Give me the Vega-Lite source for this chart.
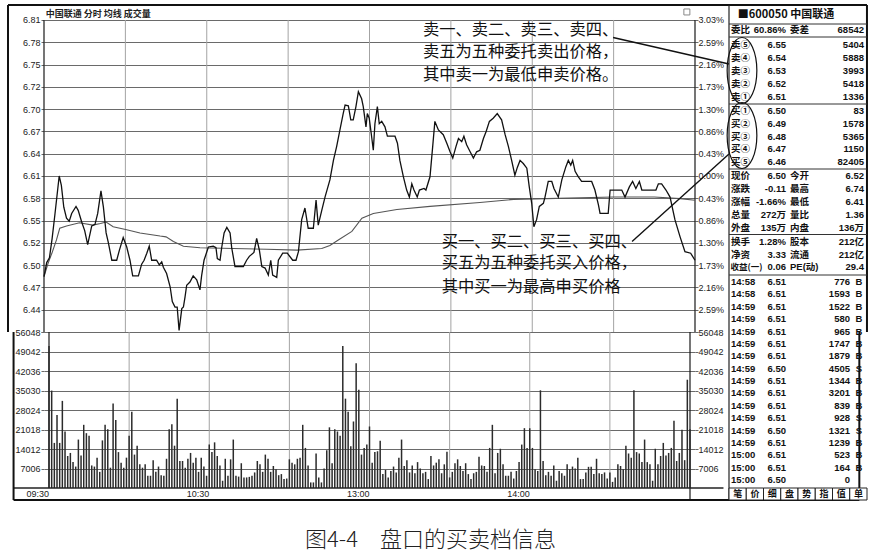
{
"$schema": "https://vega.github.io/schema/vega-lite/v6.json",
"background": "white",
"padding": {"left": 7, "top": 4, "right": 1, "bottom": 4},
"config": {"view": {"stroke": null}, "axis": {"labelFont": "Liberation Sans", "labelFontSize": 9, "labelColor": "#222", "title": null}},
"title": {"text": "图4-4　盘口的买卖档信息", "orient": "bottom", "anchor": "middle", "frame": "bounds", "offset": 29, "dx": -7, "font": "Noto Sans CJK SC", "fontSize": 22, "fontWeight": 300, "color": "#222"},
"datasets": {
"price": [{"m":0,"p":6.481},{"m":1,"p":6.499},{"m":2,"p":6.505},{"m":3,"p":6.53},{"m":4,"p":6.56},{"m":4.8,"p":6.585},{"m":5.6,"p":6.61},{"m":6.4,"p":6.598},{"m":7.3,"p":6.57},{"m":8.3,"p":6.556},{"m":9.3,"p":6.552},{"m":10.2,"p":6.562},{"m":11.8,"p":6.571},{"m":12.6,"p":6.566},{"m":13.9,"p":6.551},{"m":15,"p":6.54},{"m":16.1,"p":6.522},{"m":17.6,"p":6.546},{"m":18.8,"p":6.548},{"m":19.8,"p":6.562},{"m":21,"p":6.591},{"m":21.9,"p":6.57},{"m":22.9,"p":6.537},{"m":23.7,"p":6.525},{"m":25,"p":6.502},{"m":26.8,"p":6.502},{"m":27.8,"p":6.515},{"m":29.2,"p":6.531},{"m":30.5,"p":6.519},{"m":31.7,"p":6.502},{"m":32.7,"p":6.482},{"m":34.8,"p":6.482},{"m":36,"p":6.497},{"m":36.9,"p":6.502},{"m":37.9,"p":6.511},{"m":38.8,"p":6.52},{"m":39.7,"p":6.502},{"m":41.5,"p":6.502},{"m":42.5,"p":6.496},{"m":43.4,"p":6.5},{"m":44,"p":6.493},{"m":45.2,"p":6.485},{"m":46.5,"p":6.468},{"m":47.3,"p":6.449},{"m":48.3,"p":6.442},{"m":49.1,"p":6.442},{"m":49.8,"p":6.412},{"m":50.8,"p":6.44},{"m":51.4,"p":6.442},{"m":52,"p":6.455},{"m":52.6,"p":6.47},{"m":53.8,"p":6.474},{"m":55,"p":6.482},{"m":56.3,"p":6.477},{"m":57.5,"p":6.464},{"m":58.1,"p":6.482},{"m":59,"p":6.502},{"m":60.6,"p":6.519},{"m":62.4,"p":6.52},{"m":63.4,"p":6.518},{"m":63.9,"p":6.504},{"m":64.9,"p":6.502},{"m":65.5,"p":6.518},{"m":66.4,"p":6.537},{"m":67.4,"p":6.544},{"m":68.6,"p":6.537},{"m":69.2,"p":6.518},{"m":70.4,"p":6.494},{"m":73.5,"p":6.494},{"m":74.7,"p":6.502},{"m":75.7,"p":6.507},{"m":77.4,"p":6.512},{"m":78.4,"p":6.53},{"m":79.4,"p":6.515},{"m":80.3,"p":6.494},{"m":81.5,"p":6.492},{"m":82.7,"p":6.483},{"m":83.6,"p":6.502},{"m":84.3,"p":6.483},{"m":85.8,"p":6.48},{"m":86.4,"p":6.502},{"m":88,"p":6.511},{"m":89.7,"p":6.511},{"m":91.7,"p":6.502},{"m":92.9,"p":6.502},{"m":93.8,"p":6.513},{"m":95,"p":6.554},{"m":96.2,"p":6.569},{"m":97.4,"p":6.543},{"m":99.3,"p":6.543},{"m":100.3,"p":6.579},{"m":101.1,"p":6.547},{"m":102.4,"p":6.566},{"m":103.6,"p":6.583},{"m":105.4,"p":6.605},{"m":106.7,"p":6.63},{"m":107.9,"p":6.648},{"m":109.1,"p":6.669},{"m":110.3,"p":6.69},{"m":111,"p":6.701},{"m":112.2,"p":6.7},{"m":113.1,"p":6.682},{"m":114,"p":6.682},{"m":115,"p":6.699},{"m":115.9,"p":6.718},{"m":117.1,"p":6.709},{"m":117.7,"p":6.699},{"m":118.7,"p":6.673},{"m":119.2,"p":6.69},{"m":119.9,"p":6.684},{"m":120.8,"p":6.66},{"m":121.4,"p":6.643},{"m":122,"p":6.677},{"m":122.9,"p":6.699},{"m":123.6,"p":6.677},{"m":124.5,"p":6.68},{"m":125.7,"p":6.673},{"m":126.6,"p":6.661},{"m":129.4,"p":6.661},{"m":130.3,"p":6.652},{"m":131.2,"p":6.63},{"m":132.5,"p":6.609},{"m":133.7,"p":6.592},{"m":134.7,"p":6.583},{"m":135.6,"p":6.6},{"m":136.4,"p":6.592},{"m":137.6,"p":6.583},{"m":138.4,"p":6.592},{"m":140.1,"p":6.594},{"m":140.8,"p":6.592},{"m":142.3,"p":6.609},{"m":143.3,"p":6.648},{"m":144.1,"p":6.68},{"m":145.4,"p":6.669},{"m":147.2,"p":6.663},{"m":148.5,"p":6.652},{"m":149.7,"p":6.641},{"m":150.7,"p":6.633},{"m":151.9,"p":6.648},{"m":152.8,"p":6.658},{"m":154,"p":6.654},{"m":154.8,"p":6.661},{"m":155.8,"p":6.65},{"m":157.1,"p":6.641},{"m":158.3,"p":6.633},{"m":159.5,"p":6.641},{"m":160.7,"p":6.643},{"m":162,"p":6.658},{"m":163,"p":6.667},{"m":164.2,"p":6.68},{"m":165.6,"p":6.684},{"m":167.1,"p":6.69},{"m":168.7,"p":6.682},{"m":170,"p":6.663},{"m":171.2,"p":6.648},{"m":172.4,"p":6.63},{"m":173.6,"p":6.611},{"m":174.5,"p":6.621},{"m":175.5,"p":6.63},{"m":176.7,"p":6.626},{"m":178,"p":6.62},{"m":178.9,"p":6.596},{"m":179.8,"p":6.575},{"m":180.6,"p":6.545},{"m":181.6,"p":6.554},{"m":182.6,"p":6.571},{"m":184.1,"p":6.575},{"m":184.7,"p":6.583},{"m":185.9,"p":6.603},{"m":187.2,"p":6.603},{"m":188,"p":6.594},{"m":189.6,"p":6.583},{"m":190.9,"p":6.605},{"m":192.4,"p":6.622},{"m":193.3,"p":6.63},{"m":194.2,"p":6.624},{"m":194.9,"p":6.63},{"m":195.8,"p":6.616},{"m":197,"p":6.609},{"m":198.2,"p":6.603},{"m":201.9,"p":6.603},{"m":203.1,"p":6.592},{"m":204.4,"p":6.573},{"m":205,"p":6.562},{"m":208,"p":6.562},{"m":208.7,"p":6.592},{"m":213,"p":6.592},{"m":214.2,"p":6.583},{"m":215.8,"p":6.596},{"m":217,"p":6.603},{"m":218.2,"p":6.594},{"m":219.5,"p":6.603},{"m":220.4,"p":6.592},{"m":225.6,"p":6.592},{"m":226.5,"p":6.6},{"m":227.7,"p":6.6},{"m":229.3,"p":6.592},{"m":230.8,"p":6.583},{"m":232.6,"p":6.554},{"m":234.5,"p":6.532},{"m":236.3,"p":6.513},{"m":238.4,"p":6.511},{"m":240,"p":6.502}],
"avg": [{"m":0,"a":6.481},{"m":1.5,"a":6.498},{"m":3,"a":6.512},{"m":4.6,"a":6.528},{"m":5.8,"a":6.543},{"m":8.3,"a":6.546},{"m":13.1,"a":6.55},{"m":18,"a":6.547},{"m":20.8,"a":6.549},{"m":22.9,"a":6.551},{"m":25.5,"a":6.545},{"m":30.5,"a":6.541},{"m":35.4,"a":6.537},{"m":42.8,"a":6.533},{"m":45,"a":6.532},{"m":47.7,"a":6.526},{"m":51.4,"a":6.52},{"m":57.5,"a":6.518},{"m":69.8,"a":6.517},{"m":82.1,"a":6.516},{"m":93.2,"a":6.515},{"m":102.4,"a":6.517},{"m":105.4,"a":6.521},{"m":108.5,"a":6.528},{"m":113.5,"a":6.539},{"m":117.2,"a":6.556},{"m":121.4,"a":6.562},{"m":130.1,"a":6.567},{"m":142.3,"a":6.571},{"m":160.7,"a":6.576},{"m":173.1,"a":6.58},{"m":185.3,"a":6.581},{"m":210,"a":6.583},{"m":225,"a":6.583},{"m":234.5,"a":6.581},{"m":240,"a":6.579}],
"vol": [{"m":0,"v":51000},{"m":1,"v":35000},{"m":2,"v":16200},{"m":3,"v":26200},{"m":4,"v":16200},{"m":5,"v":31300},{"m":6,"v":20300},{"m":7,"v":11500},{"m":8,"v":12600},{"m":9,"v":9300},{"m":10,"v":7700},{"m":11,"v":17400},{"m":12,"v":11700},{"m":13,"v":22700},{"m":14,"v":19700},{"m":15,"v":18800},{"m":16,"v":8100},{"m":17,"v":7700},{"m":18,"v":10900},{"m":19,"v":5800},{"m":20,"v":17100},{"m":21,"v":22700},{"m":22,"v":21100},{"m":23,"v":7300},{"m":24,"v":30400},{"m":25,"v":24400},{"m":26,"v":12900},{"m":27,"v":9100},{"m":28,"v":7300},{"m":29,"v":10900},{"m":30,"v":18800},{"m":31,"v":27400},{"m":32,"v":12000},{"m":33,"v":15200},{"m":34,"v":8500},{"m":35,"v":7300},{"m":36,"v":8500},{"m":37,"v":4400},{"m":38,"v":4400},{"m":39,"v":10000},{"m":40,"v":5800},{"m":41,"v":7700},{"m":42,"v":4600},{"m":43,"v":4400},{"m":44,"v":10500},{"m":45,"v":21100},{"m":46,"v":22900},{"m":47,"v":15200},{"m":48,"v":32100},{"m":49,"v":9700},{"m":50,"v":9700},{"m":51,"v":7300},{"m":52,"v":10500},{"m":53,"v":12600},{"m":54,"v":9100},{"m":55,"v":10900},{"m":56,"v":5800},{"m":57,"v":10900},{"m":58,"v":7700},{"m":59,"v":4400},{"m":60,"v":15600},{"m":61,"v":12900},{"m":62,"v":16400},{"m":63,"v":11500},{"m":64,"v":8100},{"m":65,"v":2600},{"m":66,"v":10500},{"m":67,"v":4400},{"m":68,"v":10300},{"m":69,"v":17400},{"m":70,"v":4400},{"m":71,"v":4100},{"m":72,"v":8900},{"m":73,"v":3800},{"m":74,"v":3800},{"m":75,"v":4000},{"m":76,"v":4400},{"m":77,"v":5600},{"m":78,"v":9700},{"m":79,"v":8500},{"m":80,"v":5800},{"m":81,"v":12000},{"m":82,"v":10500},{"m":83,"v":5800},{"m":84,"v":7900},{"m":85,"v":6700},{"m":86,"v":4600},{"m":87,"v":5000},{"m":88,"v":3200},{"m":89,"v":3400},{"m":90,"v":10300},{"m":91,"v":9100},{"m":92,"v":8500},{"m":93,"v":10500},{"m":94,"v":10900},{"m":95,"v":22700},{"m":96,"v":14400},{"m":97,"v":8100},{"m":98,"v":2000},{"m":99,"v":2000},{"m":100,"v":12400},{"m":101,"v":3800},{"m":102,"v":2000},{"m":103,"v":7000},{"m":104,"v":13600},{"m":105,"v":21800},{"m":106,"v":8900},{"m":107,"v":21100},{"m":108,"v":20300},{"m":109,"v":18800},{"m":110,"v":51000},{"m":111,"v":32100},{"m":112,"v":27400},{"m":113,"v":15000},{"m":114,"v":23900},{"m":115,"v":44800},{"m":116,"v":35300},{"m":117,"v":12000},{"m":118,"v":14400},{"m":119,"v":15600},{"m":120,"v":22100},{"m":121,"v":9100},{"m":122,"v":12900},{"m":123,"v":13200},{"m":124,"v":17000},{"m":125,"v":5000},{"m":126,"v":6500},{"m":127,"v":3800},{"m":128,"v":6100},{"m":129,"v":7700},{"m":130,"v":5600},{"m":131,"v":10900},{"m":132,"v":17400},{"m":133,"v":7900},{"m":134,"v":10000},{"m":135,"v":5600},{"m":136,"v":8100},{"m":137,"v":5300},{"m":138,"v":9300},{"m":139,"v":7000},{"m":140,"v":5300},{"m":141,"v":5800},{"m":142,"v":3200},{"m":143,"v":11500},{"m":144,"v":8100},{"m":145,"v":9100},{"m":146,"v":10300},{"m":147,"v":5300},{"m":148,"v":8500},{"m":149,"v":13000},{"m":150,"v":3800},{"m":151,"v":5800},{"m":152,"v":8900},{"m":153,"v":10300},{"m":154,"v":7900},{"m":155,"v":6100},{"m":156,"v":8900},{"m":157,"v":5000},{"m":158,"v":3200},{"m":159,"v":5300},{"m":160,"v":5800},{"m":161,"v":11200},{"m":162,"v":8100},{"m":163,"v":7900},{"m":164,"v":5800},{"m":165,"v":14400},{"m":166,"v":22700},{"m":167,"v":5300},{"m":168,"v":12600},{"m":169,"v":14100},{"m":170,"v":8500},{"m":171,"v":4400},{"m":172,"v":4400},{"m":173,"v":5800},{"m":174,"v":3400},{"m":175,"v":6100},{"m":176,"v":9300},{"m":177,"v":15600},{"m":178,"v":21500},{"m":179,"v":14400},{"m":180,"v":21500},{"m":181,"v":14400},{"m":182,"v":6700},{"m":183,"v":6100},{"m":184,"v":35100},{"m":185,"v":9700},{"m":186,"v":4600},{"m":187,"v":5800},{"m":188,"v":4400},{"m":189,"v":8100},{"m":190,"v":2600},{"m":191,"v":6100},{"m":192,"v":5300},{"m":193,"v":4400},{"m":194,"v":8500},{"m":195,"v":6700},{"m":196,"v":7700},{"m":197,"v":7000},{"m":198,"v":10900},{"m":199,"v":3200},{"m":200,"v":3200},{"m":201,"v":5600},{"m":202,"v":7600},{"m":203,"v":7600},{"m":204,"v":5000},{"m":205,"v":10500},{"m":206,"v":5300},{"m":207,"v":5000},{"m":208,"v":5600},{"m":209,"v":3400},{"m":210,"v":5600},{"m":211,"v":2200},{"m":212,"v":3800},{"m":213,"v":8500},{"m":214,"v":7900},{"m":215,"v":6700},{"m":216,"v":15200},{"m":217,"v":12400},{"m":218,"v":10900},{"m":219,"v":35100},{"m":220,"v":12900},{"m":221,"v":12400},{"m":222,"v":9300},{"m":223,"v":17400},{"m":224,"v":9300},{"m":225,"v":8500},{"m":226,"v":2600},{"m":227,"v":14100},{"m":228,"v":8500},{"m":229,"v":11500},{"m":230,"v":16200},{"m":231,"v":11700},{"m":232,"v":12600},{"m":233,"v":14400},{"m":234,"v":24200},{"m":235,"v":9700},{"m":236,"v":12600},{"m":237,"v":20900},{"m":238,"v":10000},{"m":239,"v":38900},{"m":240,"v":21100}],
"rows": [
{"r":2.0,"a":"委比","b":"60.86%","c":"委差","d":"68542"},
{"r":3.16,"a":"卖⑤","b":"6.55","d":"5404"},
{"r":4.22,"a":"卖④","b":"6.54","d":"5888"},
{"r":5.27,"a":"卖③","b":"6.53","d":"3993"},
{"r":6.33,"a":"卖②","b":"6.52","d":"5418"},
{"r":7.38,"a":"卖①","b":"6.51","d":"1336"},
{"r":8.44,"a":"买①","b":"6.50","d":"83"},
{"r":9.48,"a":"买②","b":"6.49","d":"1578"},
{"r":10.52,"a":"买③","b":"6.48","d":"5365"},
{"r":11.54,"a":"买④","b":"6.47","d":"1150"},
{"r":12.58,"a":"买⑤","b":"6.46","d":"82405"},
{"r":13.64,"a":"现价","b":"6.50","c":"今开","d":"6.52"},
{"r":14.68,"a":"涨跌","b":"-0.11","c":"最高","d":"6.74"},
{"r":15.72,"a":"涨幅","b":"-1.66%","c":"最低","d":"6.41"},
{"r":16.76,"a":"总量","b":"272万","c":"量比","d":"1.36"},
{"r":17.8,"a":"外盘","b":"135万","c":"内盘","d":"136万"},
{"r":18.96,"a":"换手","b":"1.28%","c":"股本","d":"212亿"},
{"r":19.96,"a":"净资","b":"3.33","c":"流通","d":"212亿"},
{"r":20.98,"a":"收益(一)","b":"0.06","c":"PE(动)","d":"29.4"},
{"r":22.16,"tm":"14:58","b":"6.51","e":"776","f":"B"},
{"r":23.15,"tm":"14:58","b":"6.51","e":"1593","f":"B"},
{"r":24.14,"tm":"14:59","b":"6.51","e":"1522","f":"B"},
{"r":25.13,"tm":"14:59","b":"6.51","e":"580","f":"B"},
{"r":26.12,"tm":"14:59","b":"6.51","e":"965","f":"B"},
{"r":27.11,"tm":"14:59","b":"6.51","e":"1747","f":"B"},
{"r":28.1,"tm":"14:59","b":"6.51","e":"1879","f":"B"},
{"r":29.09,"tm":"14:59","b":"6.50","e":"4505","f":"S"},
{"r":30.08,"tm":"14:59","b":"6.51","e":"1344","f":"B"},
{"r":31.07,"tm":"14:59","b":"6.51","e":"3201","f":"B"},
{"r":32.06,"tm":"14:59","b":"6.51","e":"839","f":"B"},
{"r":33.05,"tm":"14:59","b":"6.51","e":"928","f":"S"},
{"r":34.04,"tm":"14:59","b":"6.50","e":"1321","f":"S"},
{"r":35.03,"tm":"14:59","b":"6.51","e":"1239","f":"B"},
{"r":36.02,"tm":"15:00","b":"6.51","e":"523","f":"B"},
{"r":37.01,"tm":"15:00","b":"6.51","e":"164","f":"B"},
{"r":38.0,"tm":"15:00","b":"6.50","e":"0"}
]
},
"columns": 2,
"align": "each",
"bounds": "flush",
"spacing": {"row": 0, "column": 34},
"concat": [
{
"width": 651, "height": 327,
"layer": [
{"data": {"values": [{"m":30},{"m":60},{"m":90},{"m":120},{"m":150},{"m":180},{"m":210}]},
 "mark": {"type": "rule", "color": "#a3a3a3", "strokeWidth": 1},
 "encoding": {
  "x": {"field": "m", "type": "quantitative", "scale": {"domain": [0, 240], "nice": false, "zero": false}, "axis": null},
  "y": {"datum": 6.41, "type": "quantitative", "scale": {"domain": [6.41, 6.82923], "nice": false, "zero": false},
        "axis": {"orient": "left", "values": [6.41,6.438571,6.467143,6.495714,6.524286,6.552857,6.581429,6.61,6.638571,6.667143,6.695714,6.724286,6.752857,6.781429,6.81], "grid": true, "gridColor": "#6a6a6a", "gridWidth": 1, "ticks": true, "tickSize": 3, "tickColor": "#6a6a6a", "domain": false, "labelPadding": 1, "labelOverlap": false, "labelExpr": "datum.value < 6.415 ? '' : format(datum.value, '.2f')"}},
  "y2": {"datum": 6.81}}},
{"data": {"values": [{"m":0},{"m":240}]},
 "mark": {"type": "rule", "color": "#1a1a1a", "strokeWidth": 1.2},
 "encoding": {
  "x": {"field": "m", "type": "quantitative", "axis": null},
  "y": {"datum": 6.41, "type": "quantitative",
        "axis": {"orient": "right", "values": [6.41,6.438571,6.467143,6.495714,6.524286,6.552857,6.581429,6.61,6.638571,6.667143,6.695714,6.724286,6.752857,6.781429,6.81], "grid": false, "ticks": true, "tickSize": 3, "tickColor": "#6a6a6a", "domain": false, "labelPadding": 0, "labelOverlap": false, "labelExpr": "datum.value < 6.415 ? '' : ['0.00%','0.43%','0.86%','1.30%','1.73%','2.16%','2.59%','3.03%'][round(abs(datum.value - 6.61) / 0.0285714)]"}},
  "y2": {"datum": 6.81}}},
{"data": {"name": "avg"},
 "mark": {"type": "line", "color": "#555555", "strokeWidth": 1.1},
 "encoding": {"x": {"field": "m", "type": "quantitative", "axis": null}, "y": {"field": "a", "type": "quantitative", "axis": null}}},
{"data": {"name": "price"},
 "mark": {"type": "line", "color": "#111111", "strokeWidth": 1.3},
 "encoding": {"x": {"field": "m", "type": "quantitative", "axis": null}, "y": {"field": "p", "type": "quantitative", "axis": null}}},
{"data": {"values": [
  {"m":139.7,"p":6.7972,"t":"卖一、卖二、卖三、卖四、"},
  {"m":139.7,"p":6.769,"t":"卖五为五种委托卖出价格，"},
  {"m":139.7,"p":6.7398,"t":"其中卖一为最低申卖价格。"},
  {"m":146.6,"p":6.5258,"t":"买一、买二、买三、买四、"},
  {"m":146.6,"p":6.4981,"t":"买五为五种委托买入价格，"},
  {"m":146.6,"p":6.4681,"t":"其中买一为最高申买价格"}]},
 "mark": {"type": "text", "align": "left", "baseline": "middle", "font": "Noto Sans CJK SC", "fontSize": 16.3, "color": "#111111"},
 "encoding": {"x": {"field": "m", "type": "quantitative", "axis": null}, "y": {"field": "p", "type": "quantitative", "axis": null}, "text": {"field": "t"}}},
{"data": {"values": [{"m":209.8,"p":6.7876,"m2":252.53,"p2":6.7536},{"m":216.8,"p":6.526,"m2":252.53,"p2":6.6382}]},
 "mark": {"type": "rule", "color": "#111111", "strokeWidth": 1.4},
 "encoding": {"x": {"field": "m", "type": "quantitative", "axis": null}, "y": {"field": "p", "type": "quantitative", "axis": null}, "x2": {"field": "m2"}, "y2": {"field": "p2"}}},
{"data": {"values": [{"m":0.6,"p":6.8175,"t":"中国联通  分时 均线 成交量"}]},
 "mark": {"type": "text", "align": "left", "baseline": "middle", "font": "Noto Sans CJK SC", "fontSize": 9, "fontWeight": "bold", "color": "#222222"},
 "encoding": {"x": {"field": "m", "type": "quantitative", "axis": null}, "y": {"field": "p", "type": "quantitative", "axis": null}, "text": {"field": "t"}}},
{"data": {"values": [{"m":237,"p":6.8203}]},
 "mark": {"type": "point", "shape": "square", "size": 36, "filled": false, "color": "#888888", "strokeWidth": 1, "opacity": 1},
 "encoding": {"x": {"field": "m", "type": "quantitative", "axis": null}, "y": {"field": "p", "type": "quantitative", "axis": null}}},
{"data": {"values": [{}]},
 "mark": {"type": "rule", "color": "#111111", "strokeWidth": 2},
 "encoding": {"x": {"datum": -13.27, "type": "quantitative", "axis": null}, "x2": {"datum": 303.4}, "y": {"datum": 6.82923, "type": "quantitative", "axis": null}}},
{"data": {"values": [{}]},
 "mark": {"type": "rule", "color": "#111111", "strokeWidth": 2},
 "encoding": {"x": {"datum": -13.27, "type": "quantitative", "axis": null}, "y": {"datum": 6.41, "type": "quantitative", "axis": null}, "y2": {"datum": 6.82923}}},
{"data": {"values": [{}]},
 "mark": {"type": "rule", "color": "#111111", "strokeWidth": 2},
 "encoding": {"x": {"datum": 303.4, "type": "quantitative", "axis": null}, "y": {"datum": 6.41, "type": "quantitative", "axis": null}, "y2": {"datum": 6.82923}}}
],
"resolve": {"axis": {"y": "independent"}}
},
{
"width": 138, "height": 327,
"layer": [
{"data": {"values": [{}]},
 "mark": {"type": "rule", "color": "#222222", "strokeWidth": 1.2},
 "encoding": {"x": {"datum": 0, "type": "quantitative", "scale": {"domain": [0, 138], "nice": false, "zero": false}, "axis": null},
  "y": {"datum": 0, "type": "quantitative", "scale": {"domain": [0, 26.16], "reverse": true, "nice": false, "zero": false}, "axis": null}, "y2": {"datum": 26.16}}},
{"data": {"values": [{"r":1.52},{"r":2.56},{"r":7.92},{"r":13.12},{"r":18.36},{"r":21.6}]},
 "mark": {"type": "rule", "color": "#333333", "strokeWidth": 1},
 "encoding": {"x": {"datum": 0, "type": "quantitative", "axis": null}, "x2": {"datum": 138}, "y": {"field": "r", "type": "quantitative", "axis": null}}},
{"data": {"values": [{"t": "■600050 中国联通"}]},
 "mark": {"type": "text", "align": "center", "baseline": "middle", "font": "Noto Sans CJK SC", "fontSize": 11, "fontWeight": "bold", "color": "#111111"},
 "encoding": {"x": {"datum": 57, "type": "quantitative", "axis": null}, "y": {"datum": 0.8, "type": "quantitative", "axis": null}, "text": {"field": "t"}}},
{"data": {"name": "rows"}, "transform": [{"filter": "datum.r < 26.16 && isValid(datum.a) && length(datum.a) <= 2"}],
 "mark": {"type": "text", "align": "left", "baseline": "middle", "font": "Noto Sans CJK SC", "fontSize": 9.5, "fontWeight": "bold", "color": "#111111"},
 "encoding": {"x": {"datum": 2, "type": "quantitative", "axis": null}, "y": {"field": "r", "type": "quantitative", "axis": null}, "text": {"field": "a"}}},
{"data": {"name": "rows"}, "transform": [{"filter": "datum.r < 26.16 && isValid(datum.a) && length(datum.a) > 2"}],
 "mark": {"type": "text", "align": "left", "baseline": "middle", "font": "Noto Sans CJK SC", "fontSize": 8.5, "fontWeight": "bold", "color": "#111111"},
 "encoding": {"x": {"datum": 1.5, "type": "quantitative", "axis": null}, "y": {"field": "r", "type": "quantitative", "axis": null}, "text": {"field": "a"}}},
{"data": {"name": "rows"}, "transform": [{"filter": "datum.r < 26.16 && isValid(datum.tm)"}],
 "mark": {"type": "text", "align": "left", "baseline": "middle", "font": "Liberation Sans", "fontSize": 9.5, "fontWeight": "bold", "color": "#111111"},
 "encoding": {"x": {"datum": 2, "type": "quantitative", "axis": null}, "y": {"field": "r", "type": "quantitative", "axis": null}, "text": {"field": "tm"}}},
{"data": {"name": "rows"}, "transform": [{"filter": "datum.r < 26.16 && isValid(datum.b)"}],
 "mark": {"type": "text", "align": "right", "baseline": "middle", "font": "Liberation Sans, Noto Sans CJK SC", "fontSize": 9.5, "fontWeight": "bold", "color": "#111111"},
 "encoding": {"x": {"datum": 57, "type": "quantitative", "axis": null}, "y": {"field": "r", "type": "quantitative", "axis": null}, "text": {"field": "b"}}},
{"data": {"name": "rows"}, "transform": [{"filter": "datum.r < 26.16 && isValid(datum.c)"}],
 "mark": {"type": "text", "align": "left", "baseline": "middle", "font": "Liberation Sans, Noto Sans CJK SC", "fontSize": 9.5, "fontWeight": "bold", "color": "#111111"},
 "encoding": {"x": {"datum": 61, "type": "quantitative", "axis": null}, "y": {"field": "r", "type": "quantitative", "axis": null}, "text": {"field": "c"}}},
{"data": {"name": "rows"}, "transform": [{"filter": "datum.r < 26.16 && isValid(datum.d)"}],
 "mark": {"type": "text", "align": "right", "baseline": "middle", "font": "Liberation Sans, Noto Sans CJK SC", "fontSize": 9.5, "fontWeight": "bold", "color": "#111111"},
 "encoding": {"x": {"datum": 135, "type": "quantitative", "axis": null}, "y": {"field": "r", "type": "quantitative", "axis": null}, "text": {"field": "d"}}},
{"data": {"name": "rows"}, "transform": [{"filter": "datum.r < 26.16 && isValid(datum.e)"}],
 "mark": {"type": "text", "align": "right", "baseline": "middle", "font": "Liberation Sans", "fontSize": 9.5, "fontWeight": "bold", "color": "#111111"},
 "encoding": {"x": {"datum": 121, "type": "quantitative", "axis": null}, "y": {"field": "r", "type": "quantitative", "axis": null}, "text": {"field": "e"}}},
{"data": {"name": "rows"}, "transform": [{"filter": "datum.r < 26.16 && isValid(datum.f)"}],
 "mark": {"type": "text", "align": "center", "baseline": "middle", "font": "Liberation Sans", "fontSize": 9.5, "fontWeight": "bold", "color": "#111111"},
 "encoding": {"x": {"datum": 130, "type": "quantitative", "axis": null}, "y": {"field": "r", "type": "quantitative", "axis": null}, "text": {"field": "f"}}},
{"data": {"values": [{"r":5.24},{"r":10.44}]},
 "mark": {"type": "point", "shape": "M0,-1C0.2485,-1,0.45,-0.5523,0.45,0C0.45,0.5523,0.2485,1,0,1C-0.2485,1,-0.45,0.5523,-0.45,0C-0.45,-0.5523,-0.2485,-1,0,-1Z", "size": 4356, "filled": false, "color": "#111111", "strokeWidth": 1.2, "opacity": 1},
 "encoding": {"x": {"datum": 13, "type": "quantitative", "axis": null}, "y": {"field": "r", "type": "quantitative", "axis": null}}}
]
},
{
"width": 651, "height": 168,
"layer": [
{"data": {"values": [{"m":30},{"m":60},{"m":90},{"m":120},{"m":150},{"m":180},{"m":210}]},
 "mark": {"type": "rule", "color": "#a3a3a3", "strokeWidth": 1},
 "encoding": {
  "x": {"field": "m", "type": "quantitative", "scale": {"domain": [0, 240], "nice": false, "zero": false}, "axis": null},
  "y": {"datum": 0, "type": "quantitative", "scale": {"domain": [-4311, 56048], "nice": false, "zero": false},
        "axis": {"orient": "left", "values": [7006,14012,21018,28024,35030,42036,49042,56048], "format": "d", "grid": true, "gridColor": "#6a6a6a", "gridWidth": 1, "ticks": true, "tickSize": 3, "tickColor": "#6a6a6a", "domain": false, "labelPadding": 1, "labelOverlap": false}},
  "y2": {"datum": 56048}}},
{"data": {"values": [{"m":0},{"m":240}]},
 "mark": {"type": "rule", "color": "#1a1a1a", "strokeWidth": 1.2},
 "encoding": {
  "x": {"field": "m", "type": "quantitative", "axis": null},
  "y": {"datum": 0, "type": "quantitative",
        "axis": {"orient": "right", "values": [7006,14012,21018,28024,35030,42036,49042,56048], "format": "d", "grid": false, "ticks": true, "tickSize": 3, "tickColor": "#6a6a6a", "domain": false, "labelPadding": 0, "labelOverlap": false}},
  "y2": {"datum": 56048}}},
{"data": {"values": [{}]},
 "mark": {"type": "rule", "color": "#1a1a1a", "strokeWidth": 1.2},
 "encoding": {"x": {"datum": 240, "type": "quantitative", "axis": null}, "y": {"datum": -4311, "type": "quantitative", "axis": null}, "y2": {"datum": 0}}},
{"data": {"name": "vol"},
 "mark": {"type": "bar", "orient": "vertical", "size": 1.5, "color": "#2b2b2b"},
 "encoding": {
  "x": {"field": "m", "type": "quantitative", "axis": null},
  "y": {"field": "v", "type": "quantitative", "axis": null}}},
{"data": {"values": [{"m":0,"t":"09:30"},{"m":60,"t":"10:30"},{"m":120,"t":"13:00"},{"m":180,"t":"14:00"}]},
 "mark": {"type": "text", "align": "right", "baseline": "middle", "font": "Liberation Sans", "fontSize": 9, "color": "#222222"},
 "encoding": {"x": {"field": "m", "type": "quantitative", "axis": null}, "y": {"datum": -2156, "type": "quantitative", "axis": null}, "text": {"field": "t"}}},
{"data": {"values": [{}]},
 "mark": {"type": "rule", "color": "#222222", "strokeWidth": 1.3},
 "encoding": {"x": {"datum": -13.27, "type": "quantitative", "axis": null}, "x2": {"datum": 252.53}, "y": {"datum": 0, "type": "quantitative", "axis": null}}},
{"data": {"values": [{}]},
 "mark": {"type": "rule", "color": "#111111", "strokeWidth": 2},
 "encoding": {"x": {"datum": -13.27, "type": "quantitative", "axis": null}, "y": {"datum": -4311, "type": "quantitative", "axis": null}, "y2": {"datum": 56048}}},
{"data": {"values": [{}]},
 "mark": {"type": "rule", "color": "#111111", "strokeWidth": 2},
 "encoding": {"x": {"datum": 303.4, "type": "quantitative", "axis": null}, "y": {"datum": -4311, "type": "quantitative", "axis": null}, "y2": {"datum": 56048}}},
{"data": {"values": [{}]},
 "mark": {"type": "rule", "color": "#111111", "strokeWidth": 2},
 "encoding": {"x": {"datum": -13.27, "type": "quantitative", "axis": null}, "x2": {"datum": 303.4}, "y": {"datum": -4311, "type": "quantitative", "axis": null}}}
],
"resolve": {"axis": {"y": "independent"}}
},
{
"width": 138, "height": 168,
"layer": [
{"layer": [
{"data": {"values": [{}]},
 "mark": {"type": "rule", "color": "#222222", "strokeWidth": 1.2},
 "encoding": {"x": {"datum": 0, "type": "quantitative", "scale": {"domain": [0, 138], "nice": false, "zero": false}, "axis": null},
  "y": {"datum": 26.16, "type": "quantitative", "scale": {"domain": [26.16, 39.6], "reverse": true, "nice": false, "zero": false}, "axis": null}, "y2": {"datum": 39.6}}},
{"data": {"name": "rows"}, "transform": [{"filter": "datum.r >= 26.16 && isValid(datum.tm)"}],
 "mark": {"type": "text", "align": "left", "baseline": "middle", "font": "Liberation Sans", "fontSize": 9.5, "fontWeight": "bold", "color": "#111111"},
 "encoding": {"x": {"datum": 2, "type": "quantitative", "axis": null}, "y": {"field": "r", "type": "quantitative", "axis": null}, "text": {"field": "tm"}}},
{"data": {"name": "rows"}, "transform": [{"filter": "datum.r >= 26.16 && isValid(datum.b)"}],
 "mark": {"type": "text", "align": "right", "baseline": "middle", "font": "Liberation Sans", "fontSize": 9.5, "fontWeight": "bold", "color": "#111111"},
 "encoding": {"x": {"datum": 57, "type": "quantitative", "axis": null}, "y": {"field": "r", "type": "quantitative", "axis": null}, "text": {"field": "b"}}},
{"data": {"name": "rows"}, "transform": [{"filter": "datum.r >= 26.16 && isValid(datum.e)"}],
 "mark": {"type": "text", "align": "right", "baseline": "middle", "font": "Liberation Sans", "fontSize": 9.5, "fontWeight": "bold", "color": "#111111"},
 "encoding": {"x": {"datum": 121, "type": "quantitative", "axis": null}, "y": {"field": "r", "type": "quantitative", "axis": null}, "text": {"field": "e"}}},
{"data": {"name": "rows"}, "transform": [{"filter": "datum.r >= 26.16 && isValid(datum.f)"}],
 "mark": {"type": "text", "align": "center", "baseline": "middle", "font": "Liberation Sans", "fontSize": 9.5, "fontWeight": "bold", "color": "#111111"},
 "encoding": {"x": {"datum": 130, "type": "quantitative", "axis": null}, "y": {"field": "r", "type": "quantitative", "axis": null}, "text": {"field": "f"}}}
]},
{"data": {"values": [{"i":0,"t":"笔"},{"i":1,"t":"价"},{"i":2,"t":"细"},{"i":3,"t":"盘"},{"i":4,"t":"势"},{"i":5,"t":"指"},{"i":6,"t":"值"},{"i":7,"t":"单"}]},
 "layer": [
 {"mark": {"type": "rect", "fill": "white", "stroke": "#222222", "strokeWidth": 1},
  "encoding": {"x": {"field": "i", "type": "ordinal", "scale": {"paddingInner": 0, "paddingOuter": 0}, "axis": null}, "y": {"datum": 38.64, "type": "quantitative", "axis": null}, "y2": {"datum": 39.6}}},
 {"mark": {"type": "text", "baseline": "middle", "align": "center", "font": "Noto Sans CJK SC", "fontSize": 9, "fontWeight": "bold", "color": "#111111"},
  "encoding": {"x": {"field": "i", "type": "ordinal", "axis": null}, "y": {"datum": 39.12, "type": "quantitative", "axis": null}, "text": {"field": "t"}}}
 ]}
],
"resolve": {"scale": {"x": "independent"}}
}
]
}
